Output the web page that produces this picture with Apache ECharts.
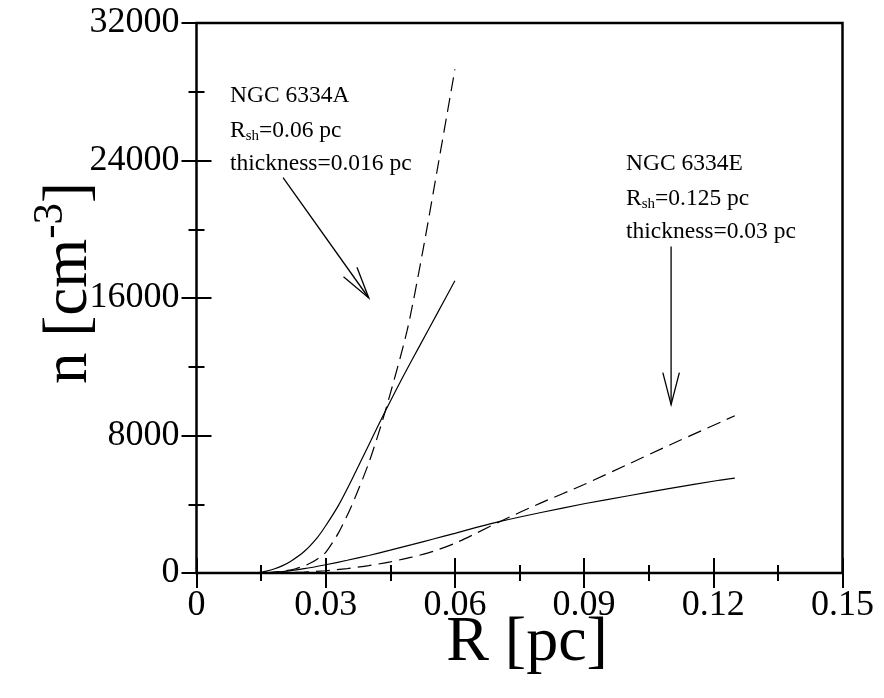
<!DOCTYPE html>
<html>
<head>
<meta charset="utf-8">
<script src="https://cdn.jsdelivr.net/npm/echarts@6/dist/echarts.min.js"></script>
<style>html,body{margin:0;padding:0;background:#fff;}#c{width:884px;height:698px;}</style>
</head>
<body>
<div id="c"></div>
<script>
// ---- data ----
var xTickLabels = ['0', '0.03', '0.06', '0.09', '0.12', '0.15'];
var yTickLabels = ['0', '8000', '16000', '24000', '32000'];

var solidA = [[0.014,0],[0.016,90],[0.018,230],[0.020,430],[0.022,700],[0.025,1250],[0.028,2050],[0.030,2750],[0.033,3950],[0.036,5400],[0.040,7450],[0.044,9500],[0.048,11450],[0.052,13300],[0.056,15150],[0.060,17000]];
var dashedA = [[0.016,0],[0.020,100],[0.023,250],[0.026,520],[0.028,800],[0.030,1200],[0.033,2350],[0.036,3900],[0.040,6400],[0.0437,9300],[0.0489,14100],[0.0526,18800],[0.056,23600],[0.060,29300]];
var solidE = [[0.015,0],[0.020,80],[0.025,250],[0.030,480],[0.035,740],[0.040,1020],[0.045,1330],[0.050,1650],[0.055,1980],[0.060,2310],[0.065,2650],[0.0705,3000],[0.080,3520],[0.090,4030],[0.100,4480],[0.110,4920],[0.121,5380],[0.125,5520]];
var dashedE = [[0.018,0],[0.025,50],[0.030,130],[0.035,260],[0.040,430],[0.045,650],[0.050,920],[0.055,1260],[0.060,1730],[0.065,2320],[0.0705,3000],[0.080,4080],[0.090,5150],[0.100,6300],[0.110,7460],[0.125,9150]];
// arrows: [x_start, y_start, x_tip, y_tip]
var arrows = [[0.0201,23000,0.0400,16000],[0.1102,19000,0.1102,9800]];

var serif = "'Liberation Serif', 'DejaVu Serif', 'Times New Roman', serif";
var chart = echarts.init(document.getElementById('c'), null, {renderer:'canvas'});

function lineSeries(data, dashed) {
  return {
    type: 'line', data: data, showSymbol: false, smooth: 0.25,
    lineStyle: {color: '#000', width: 1.2, type: dashed ? [14, 7] : 'solid'},
    silent: true, z: 3
  };
}

var tickCommon = {show: true, inside: true, length: 15, lineStyle: {color: '#000', width: 2}};
var minorCommon = {show: true, splitNumber: 2, length: 8, lineStyle: {color: '#000', width: 2}};

var option = {
  animation: false,
  backgroundColor: '#fff',
  grid: {left: 196.5, right: 41.5, top: 23, bottom: 125, show: true, borderColor: '#000', borderWidth: 2.5, backgroundColor: 'transparent'},
  xAxis: [{
    type: 'value', min: 0, max: 0.15, interval: 0.03,
    axisLine: {show: false},
    axisTick: tickCommon, minorTick: minorCommon,
    splitLine: {show: false},
    axisLabel: {margin: 15, color: '#000', fontFamily: serif, fontSize: 36,
      formatter: function (v, i) { return xTickLabels[Math.round(v / 0.03)]; }}
  }, {
    type: 'value', min: 0, max: 0.15, interval: 0.03, position: 'top',
    axisLine: {show: false}, axisTick: tickCommon, minorTick: minorCommon,
    splitLine: {show: false}, axisLabel: {show: false}
  }],
  yAxis: [{
    type: 'value', min: 0, max: 32000, interval: 8000,
    axisLine: {show: false},
    axisTick: tickCommon, minorTick: minorCommon,
    splitLine: {show: false},
    axisLabel: {margin: 17, color: '#000', fontFamily: serif, fontSize: 36,
      formatter: function (v) { return yTickLabels[Math.round(v / 8000)]; }}
  }, {
    type: 'value', min: 0, max: 32000, interval: 8000, position: 'right',
    axisLine: {show: false}, axisTick: tickCommon, minorTick: minorCommon,
    splitLine: {show: false}, axisLabel: {show: false}
  }],
  series: [
    lineSeries(solidA, false),
    lineSeries(dashedA, true),
    lineSeries(solidE, false),
    lineSeries(dashedE, true),
    {
      type: 'custom', data: arrows, silent: true, z: 4,
      encode: {x: [0, 2], y: [1, 3]},
      renderItem: function (params, api) {
        var p1 = api.coord([api.value(0), api.value(1)]);
        var p2 = api.coord([api.value(2), api.value(3)]);
        var ang = Math.atan2(p1[1] - p2[1], p1[0] - p2[0]);
        var L = 33, h = 14.5 * Math.PI / 180;
        var a = [p2[0] + L * Math.cos(ang - h), p2[1] + L * Math.sin(ang - h)];
        var b = [p2[0] + L * Math.cos(ang + h), p2[1] + L * Math.sin(ang + h)];
        return {type: 'group', children: [
          {type: 'line', shape: {x1: p1[0], y1: p1[1], x2: p2[0], y2: p2[1]}, style: {stroke: '#000', lineWidth: 1.3}},
          {type: 'polyline', shape: {points: [a, p2, b]}, style: {stroke: '#000', lineWidth: 1.3, fill: null}}
        ]};
      }
    }
  ],
  graphic: (function () {
    var rich = {
      m: {fontFamily: serif, fontSize: 23.5, fill: '#000', verticalAlign: 'top'},
      s: {fontFamily: serif, fontSize: 15, fill: '#000', verticalAlign: 'top', padding: [10, 0, 0, 0]}
    };
    function t(x, y, txt) {
      return {type: 'text', x: x, y: y, silent: true,
        style: {text: txt, rich: rich, fill: '#000', verticalAlign: 'middle', align: 'left'}};
    }
    return [
      t(230, 96, '{m|NGC 6334A}'),
      t(230, 131, '{m|R}{s|sh}{m|=0.06 pc}'),
      t(230, 164, '{m|thickness=0.016 pc}'),
      t(626, 164, '{m|NGC 6334E}'),
      t(626, 199, '{m|R}{s|sh}{m|=0.125 pc}'),
      t(626, 232, '{m|thickness=0.03 pc}'),
      {type: 'text', x: 527, y: 643, silent: true,
        style: {text: 'R [pc]', fontFamily: serif, fontSize: 64, fill: '#000', align: 'center', verticalAlign: 'middle'}},
      {type: 'text', x: 65, y: 283, rotation: Math.PI / 2, silent: true,
        style: {text: '{a|n [cm}{b|-3}{a|]}', align: 'center', verticalAlign: 'middle',
          rich: {
            a: {fontFamily: serif, fontSize: 63, fill: '#000', verticalAlign: 'bottom'},
            b: {fontFamily: serif, fontSize: 43, fill: '#000', verticalAlign: 'bottom', padding: [0, 0, 28, 0]}
          }}}
    ];
  })()
};
chart.setOption(option);
</script>
</body>
</html>
